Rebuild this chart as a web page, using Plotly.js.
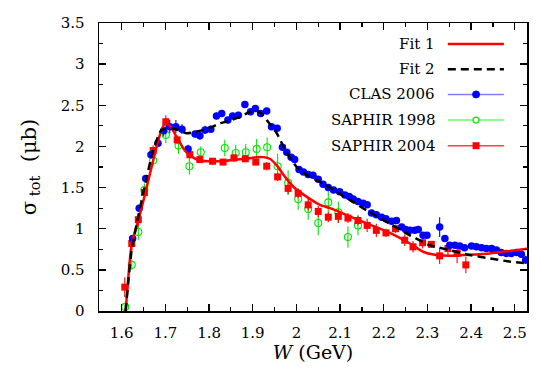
<!DOCTYPE html>
<html>
<head>
<meta charset="utf-8">
<script src="https://cdn.plot.ly/plotly-3.0.1.min.js"></script>
<style>html,body{margin:0;padding:0;background:#fff;}#chart{width:560px;height:370px;}</style>
</head>
<body>
<div id="chart"></div>
<script>
// ---- Data ----
const seriesNames = ["Fit 1", "Fit 2", "CLAS 2006", "SAPHIR 1998", "SAPHIR 2004"];

const fit1W = [1.609,1.615,1.623,1.638,1.652,1.672,1.688,1.699,1.712,1.727,1.742,1.756,1.779,1.806,1.832,1.859,1.886,1.909,1.925,1.939,1.955,1.974,1.993,2.023,2.054,2.077,2.092,2.122,2.168,2.214,2.260,2.290,2.320,2.350,2.382,2.443,2.489,2.532];
const fit1S = [0.00,0.40,0.82,1.10,1.39,1.83,2.15,2.28,2.24,2.10,1.97,1.89,1.83,1.82,1.82,1.84,1.85,1.87,1.87,1.85,1.77,1.63,1.51,1.39,1.29,1.25,1.22,1.15,1.05,0.95,0.82,0.72,0.68,0.67,0.68,0.70,0.73,0.76];

const fit2W = [1.609,1.615,1.623,1.638,1.652,1.672,1.691,1.710,1.730,1.749,1.771,1.800,1.825,1.850,1.871,1.894,1.909,1.920,1.932,1.955,1.977,2.004,2.031,2.061,2.092,2.122,2.168,2.214,2.260,2.305,2.351,2.397,2.443,2.489,2.532];
const fit2S = [0.00,0.35,0.75,1.15,1.50,1.95,2.20,2.22,2.20,2.16,2.18,2.22,2.28,2.32,2.36,2.42,2.43,2.40,2.32,2.16,1.93,1.73,1.63,1.55,1.45,1.35,1.20,1.06,0.92,0.80,0.74,0.68,0.64,0.60,0.58];

const clasW = [1.625,1.640,1.655,1.667,1.683,1.696,1.710,1.724,1.738,1.752,1.768,1.779,1.791,1.804,1.817,1.829,1.843,1.854,1.867,1.882,1.895,1.906,1.918,1.932,1.943,1.956,1.968,1.978,1.988,1.996,2.006,2.016,2.027,2.038,2.050,2.061,2.073,2.085,2.099,2.111,2.121,2.130,2.141,2.153,2.162,2.172,2.183,2.195,2.205,2.218,2.229,2.241,2.250,2.260,2.271,2.279,2.290,2.299,2.328,2.340,2.351,2.363,2.374,2.385,2.401,2.412,2.424,2.435,2.447,2.458,2.469,2.481,2.492,2.504,2.515,2.525];
const clasS = [0.88,1.25,1.61,1.90,2.04,2.19,2.24,2.24,2.21,1.97,2.15,2.13,2.20,2.21,2.37,2.40,2.32,2.37,2.38,2.51,2.42,2.46,2.40,2.43,2.24,2.22,1.99,1.93,1.87,1.84,1.72,1.69,1.66,1.65,1.60,1.54,1.50,1.47,1.45,1.41,1.39,1.36,1.33,1.31,1.29,1.19,1.17,1.14,1.12,1.09,1.10,1.02,0.99,0.98,0.98,0.99,0.92,0.92,1.02,0.88,0.80,0.80,0.79,0.77,0.79,0.78,0.77,0.76,0.76,0.74,0.71,0.70,0.70,0.71,0.69,0.62];
const clasE = [0.04,0.04,0.04,0.05,0.05,0.07,0.08,0.08,0.06,0.05,0.04,0.05,0.05,0.04,0.04,0.04,0.04,0.04,0.04,0.04,0.04,0.04,0.04,0.04,0.04,0.04,0.04,0.04,0.03,0.03,0.03,0.03,0.03,0.03,0.03,0.03,0.03,0.03,0.03,0.03,0.03,0.03,0.03,0.03,0.03,0.03,0.03,0.03,0.03,0.03,0.03,0.03,0.03,0.03,0.03,0.03,0.03,0.03,0.12,0.04,0.03,0.03,0.03,0.03,0.03,0.03,0.03,0.03,0.03,0.03,0.03,0.03,0.03,0.04,0.04,0.05];

const s98W = [1.608,1.623,1.638,1.652,1.672,1.701,1.730,1.755,1.781,1.836,1.861,1.884,1.909,1.933,1.957,1.981,2.004,2.027,2.050,2.073,2.096,2.118,2.141];
const s98S = [0.05,0.56,0.96,1.47,1.83,2.14,2.01,1.76,1.93,1.98,1.92,1.93,1.97,1.99,1.76,1.56,1.36,1.24,1.07,1.32,1.20,0.90,1.04];
const s98E = [0.03,0.06,0.10,0.08,0.06,0.10,0.10,0.10,0.07,0.10,0.10,0.10,0.12,0.12,0.15,0.15,0.13,0.13,0.15,0.15,0.13,0.13,0.12];

const s04W = [1.607,1.623,1.638,1.652,1.672,1.701,1.727,1.756,1.779,1.808,1.832,1.857,1.883,1.907,1.932,1.957,1.981,2.004,2.027,2.050,2.073,2.096,2.118,2.141,2.162,2.183,2.205,2.227,2.248,2.267,2.289,2.309,2.328,2.347,2.368,2.388];
const s04S = [0.29,0.82,1.11,1.44,1.95,2.30,2.08,1.90,1.84,1.82,1.81,1.86,1.85,1.81,1.76,1.63,1.49,1.43,1.29,1.21,1.14,1.15,1.13,1.10,1.04,0.98,0.95,1.00,0.86,0.78,0.83,0.81,0.67,0.76,0.70,0.56];
const s04E = [0.12,0.10,0.08,0.06,0.06,0.08,0.05,0.05,0.04,0.04,0.04,0.05,0.04,0.04,0.05,0.05,0.07,0.06,0.07,0.07,0.06,0.08,0.06,0.06,0.08,0.08,0.05,0.05,0.07,0.07,0.07,0.04,0.10,0.08,0.12,0.10];

const xTicks = [1.6,1.7,1.8,1.9,2.0,2.1,2.2,2.3,2.4,2.5];
const xTickText = ["1.6","1.7","1.8","1.9","2","2.1","2.2","2.3","2.4","2.5"];
const yTicks = [0,0.5,1,1.5,2,2.5,3,3.5];
const yTickText = ["0","0.5","1","1.5","2","2.5","3","3.5"];

// ---- Traces ----
const traces = [
  {x: s98W, y: s98S, type:'scatter', mode:'markers', name: seriesNames[3],
   marker:{symbol:'circle-open', size:7, color:'#00e600', line:{width:1.1}},
   error_y:{type:'data', array:s98E, visible:true, color:'#00e600', thickness:1.1, width:0}},
  {x: s04W, y: s04S, type:'scatter', mode:'markers', name: seriesNames[4],
   marker:{symbol:'square', size:7, color:'#ff0000'},
   error_y:{type:'data', array:s04E, visible:true, color:'#ff0000', thickness:1.1, width:0}},
  {x: clasW, y: clasS, type:'scatter', mode:'markers', name: seriesNames[2],
   marker:{symbol:'circle', size:7.5, color:'#0000ff'},
   error_y:{type:'data', array:clasE, visible:true, color:'#0000ff', thickness:1.1, width:0}},
  {x: fit1W, y: fit1S, type:'scatter', mode:'lines', name: seriesNames[0],
   line:{color:'#ff0000', width:2.5, shape:'spline', smoothing:0.6}},
  {x: fit2W, y: fit2S, type:'scatter', mode:'lines', name: seriesNames[1],
   line:{color:'#000000', width:2.5, dash:'8px,5px', shape:'spline', smoothing:0.6}}
];

const serif = "DejaVu Serif";

// ---- Manual legend (text right of key, like the reference) ----
const legRows = [0.927, 0.839, 0.752, 0.663, 0.574];
const legTextX = 0.79, legX0 = 0.815, legX1 = 0.946, legMX = 0.881;
const annotations = seriesNames.map((n,i)=>({
  text:n, xref:'paper', yref:'paper', x:legTextX, y:legRows[i], xanchor:'right', yanchor:'middle',
  showarrow:false, font:{family:serif, size:15, color:'#000'}
}));
const legLineStyles = [
  {color:'#ff0000', width:2.5},
  {color:'#000000', width:2.5, dash:'8px,5px'},
  {color:'#7f7fff', width:1.5},
  {color:'#66ff66', width:1.5},
  {color:'#ff4040', width:1.5}
];
const shapes = legLineStyles.map((ls,i)=>({type:'line', xref:'paper', yref:'paper', x0:legX0, x1:legX1, y0:legRows[i], y1:legRows[i], line:ls}));
shapes.push({type:'circle', xref:'paper', yref:'paper', xsizemode:'pixel', ysizemode:'pixel', xanchor:legMX, yanchor:legRows[2], x0:-3.5, x1:3.5, y0:-3.5, y1:3.5, fillcolor:'#0000ff', line:{color:'#0000ff', width:1}});
shapes.push({type:'circle', xref:'paper', yref:'paper', xsizemode:'pixel', ysizemode:'pixel', xanchor:legMX, yanchor:legRows[3], x0:-3, x1:3, y0:-3, y1:3, fillcolor:'#ffffff', line:{color:'#00e600', width:1.2}});
shapes.push({type:'rect', xref:'paper', yref:'paper', xsizemode:'pixel', ysizemode:'pixel', xanchor:legMX, yanchor:legRows[4], x0:-3.5, x1:3.5, y0:-3.5, y1:3.5, fillcolor:'#ff0000', line:{color:'#ff0000', width:0}});

const layout = {
  width:560, height:370,
  margin:{l:99, r:33, t:23, b:59, pad:0},
  paper_bgcolor:'#fff', plot_bgcolor:'#fff',
  showlegend:false,
  font:{family:serif, size:15, color:'#000'},
  xaxis:{
    range:[1.548, 2.528], tickvals:xTicks, ticktext:xTickText,
    ticks:'inside', ticklen:7, tickwidth:1.3, tickcolor:'#000',
    showline:true, linecolor:'#000', linewidth:1.5, mirror:'allticks',
    showgrid:false, zeroline:false, ticklabelstandoff:7,
    tickfont:{family:serif, size:15},
    minor:{dtick:0.05, tick0:1.55, ticks:'inside', ticklen:4, tickwidth:1.2, tickcolor:'#000', showgrid:false},
    title:{text:'<i>W</i> (GeV)', font:{family:serif, size:19}, standoff:4}
  },
  yaxis:{
    range:[0, 3.5], tickvals:yTicks, ticktext:yTickText,
    ticks:'inside', ticklen:7, tickwidth:1.3, tickcolor:'#000',
    showline:true, linecolor:'#000', linewidth:1.5, mirror:'allticks',
    showgrid:false, zeroline:false, ticklabelstandoff:10,
    tickfont:{family:serif, size:15},
    minor:{dtick:0.25, ticks:'inside', ticklen:4, tickwidth:1.2, tickcolor:'#000', showgrid:false},
    title:{text:'σ<sub> tot</sub>  (μb)', font:{family:serif, size:21}, standoff:18}
  },
  annotations: annotations,
  shapes: shapes
};

Plotly.newPlot('chart', traces, layout, {staticPlot:true, displayModeBar:false});
</script>
</body>
</html>
